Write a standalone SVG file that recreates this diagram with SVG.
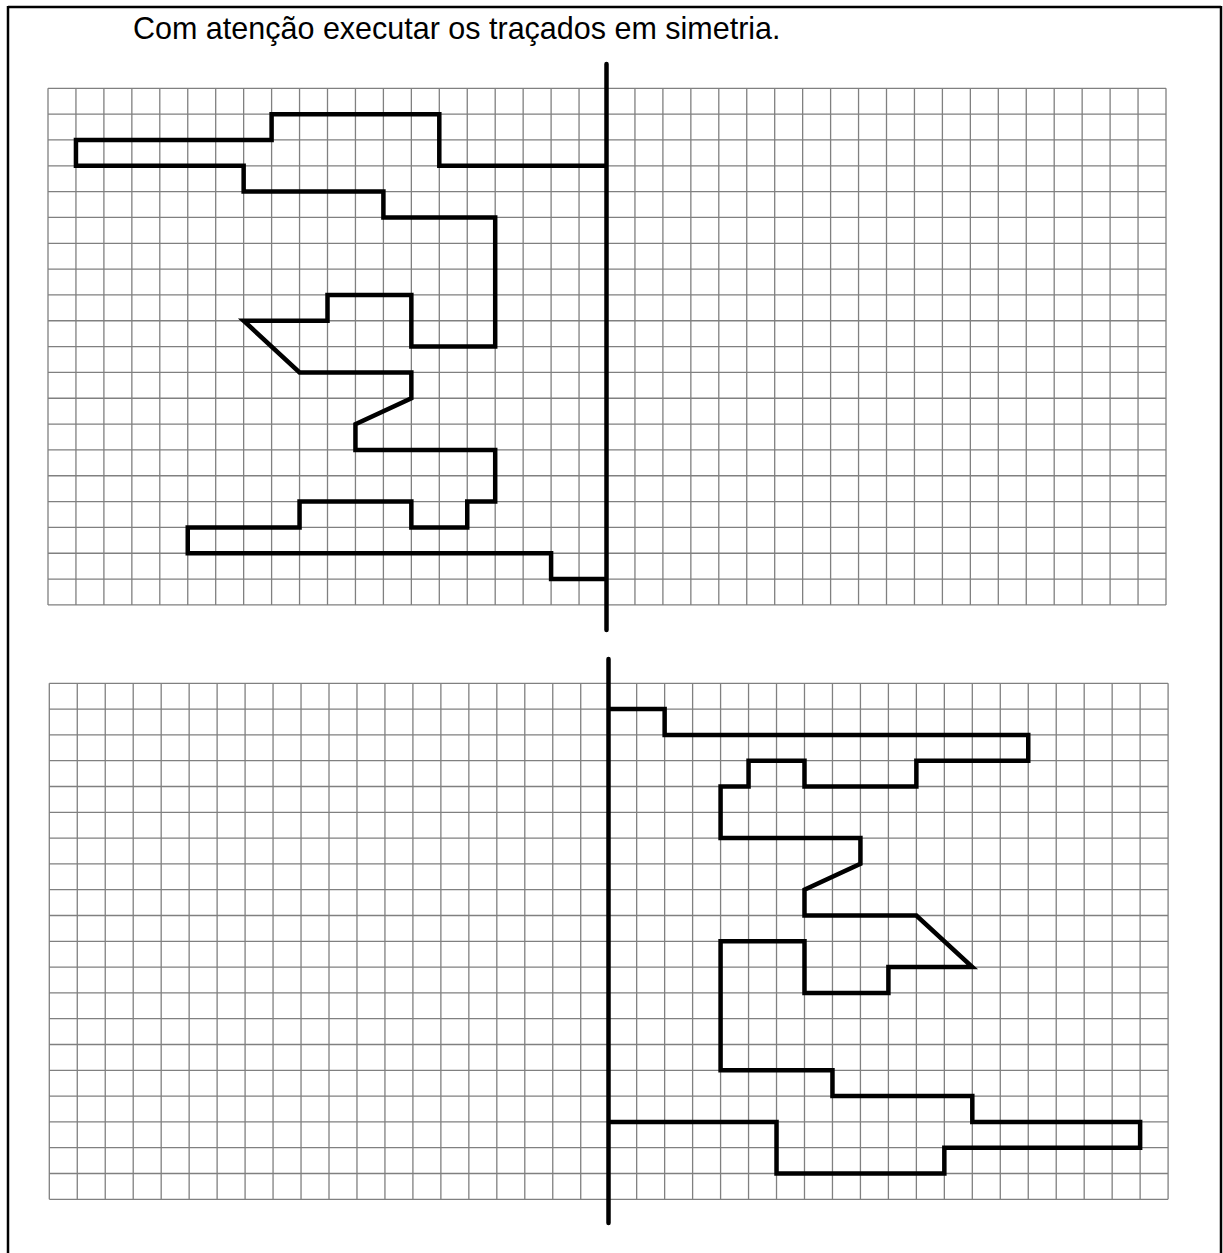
<svg xmlns="http://www.w3.org/2000/svg" width="1223" height="1253" viewBox="0 0 1223 1253">
<defs>
<style>
.grid{fill:none;stroke:#808080;stroke-width:1.3}
.shape{fill:none;stroke:#000;stroke-width:4.5;stroke-linejoin:miter}
.axis{stroke:#000;stroke-width:4.5;stroke-linecap:round}
.frame{stroke:#000;stroke-width:2.5}
.title{font-family:"Liberation Sans",Arial,sans-serif;font-size:30.5px;fill:#000}
</style>
</defs>
<rect width="1223" height="1253" fill="#fff"/>
<g id="frame">
<line class="frame" x1="8" y1="7" x2="1221" y2="7"/>
<line class="frame" x1="8" y1="6" x2="8" y2="1253"/>
<line class="frame" x1="1221" y1="6" x2="1221" y2="1253"/>
</g>
<text id="title" class="title" x="133" y="39">Com atenção executar os traçados em simetria.</text>
<g id="top-grid" transform="translate(48,88.3) scale(27.95,25.83)">
<path class="grid" vector-effect="non-scaling-stroke" d="M0 0V20M1 0V20M2 0V20M3 0V20M4 0V20M5 0V20M6 0V20M7 0V20M8 0V20M9 0V20M10 0V20M11 0V20M12 0V20M13 0V20M14 0V20M15 0V20M16 0V20M17 0V20M18 0V20M19 0V20M20 0V20M21 0V20M22 0V20M23 0V20M24 0V20M25 0V20M26 0V20M27 0V20M28 0V20M29 0V20M30 0V20M31 0V20M32 0V20M33 0V20M34 0V20M35 0V20M36 0V20M37 0V20M38 0V20M39 0V20M40 0V20M0 0H40M0 1H40M0 2H40M0 3H40M0 4H40M0 5H40M0 6H40M0 7H40M0 8H40M0 9H40M0 10H40M0 11H40M0 12H40M0 13H40M0 14H40M0 15H40M0 16H40M0 17H40M0 18H40M0 19H40M0 20H40"/>
<polyline id="top-shape" class="shape" vector-effect="non-scaling-stroke" points="20,3 14,3 14,1 8,1 8,2 1,2 1,3 7,3 7,4 12,4 12,5 16,5 16,10 13,10 13,8 10,8 10,9 7,9 9,11 13,11 13,12 11,13 11,14 16,14 16,16 15,16 15,17 13,17 13,16 9,16 9,17 5,17 5,18 18,18 18,19 20,19"/>
</g>
<g id="bottom-grid" transform="translate(49.3,683.3) scale(27.97,25.8)">
<path class="grid" vector-effect="non-scaling-stroke" d="M0 0V20M1 0V20M2 0V20M3 0V20M4 0V20M5 0V20M6 0V20M7 0V20M8 0V20M9 0V20M10 0V20M11 0V20M12 0V20M13 0V20M14 0V20M15 0V20M16 0V20M17 0V20M18 0V20M19 0V20M20 0V20M21 0V20M22 0V20M23 0V20M24 0V20M25 0V20M26 0V20M27 0V20M28 0V20M29 0V20M30 0V20M31 0V20M32 0V20M33 0V20M34 0V20M35 0V20M36 0V20M37 0V20M38 0V20M39 0V20M40 0V20M0 0H40M0 1H40M0 2H40M0 3H40M0 4H40M0 5H40M0 6H40M0 7H40M0 8H40M0 9H40M0 10H40M0 11H40M0 12H40M0 13H40M0 14H40M0 15H40M0 16H40M0 17H40M0 18H40M0 19H40M0 20H40"/>
<polyline id="bottom-shape" class="shape" vector-effect="non-scaling-stroke" points="20,1 22,1 22,2 35,2 35,3 31,3 31,4 27,4 27,3 25,3 25,4 24,4 24,6 29,6 29,7 27,8 27,9 31,9 33,11 30,11 30,12 27,12 27,10 24,10 24,15 28,15 28,16 33,16 33,17 39,17 39,18 32,18 32,19 26,19 26,17 20,17"/>
</g>
<g id="connectors">
<line id="top-axis" class="axis" x1="606.5" y1="64" x2="606.5" y2="630"/>
<line id="bottom-axis" class="axis" x1="608.5" y1="659" x2="608.5" y2="1223"/>
</g>
</svg>
